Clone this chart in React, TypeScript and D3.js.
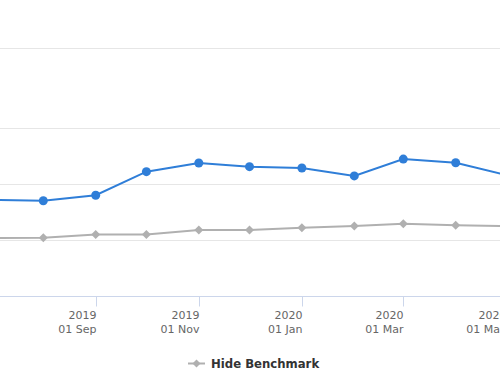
import React from "react";
import * as d3 from "d3";

const months: string[] = [
  "2019-07-01", "2019-08-01", "2019-09-01", "2019-10-01", "2019-11-01", "2019-12-01",
  "2020-01-01", "2020-02-01", "2020-03-01", "2020-04-01", "2020-05-01",
];
const portfolio: number[] = [34.3, 34.0, 36.0, 44.4, 47.5, 46.2, 45.7, 42.9, 48.9, 47.6, 43.2];
const benchmark: number[] = [20.7, 20.8, 22.0, 22.0, 23.6, 23.6, 24.4, 25.0, 25.8, 25.3, 25.0];
const yTicks: number[] = [0, 20, 40, 60, 88.6];
const xTicks: string[] = ["2019-09-01", "2019-11-01", "2020-01-01", "2020-03-01", "2020-05-01"];
const legendLabel = "Hide Benchmark";

const W = 500;
const H = 380;
const parse = d3.timeParse("%Y-%m-%d");
const fmtYear = d3.timeFormat("%Y");
const fmtDay = d3.timeFormat("%d %b");

export default function App() {
  const x = d3
    .scaleTime()
    .domain([parse("2019-08-01")!, parse("2020-04-01")!])
    .range([43.3, 455.7]);
  const y = d3.scaleLinear().domain([0, 60]).range([296, 128]);

  const dates = months.map((m) => parse(m)!);
  const line = d3
    .line<number>()
    .x((_, i) => x(dates[i]))
    .y((v) => y(v));

  const blue = "#2f7ed8";
  const gray = "#b0b0b0";
  const font = "'DejaVu Sans', 'Lucida Grande', Arial, sans-serif";

  const diamond = (cx: number, cy: number, r: number) =>
    `M${cx},${cy - r}L${cx + r},${cy}L${cx},${cy + r}L${cx - r},${cy}Z`;

  return (
    <svg
      width={W}
      height={H}
      style={{ position: "absolute", left: 0, top: 0, background: "#fff" }}
      fontFamily={font}
    >
      <defs>
        <clipPath id="plot">
          <rect x={0} y={0} width={W} height={300} />
        </clipPath>
      </defs>
      {yTicks.map((t) => (
        <line
          key={t}
          x1={0}
          x2={W}
          y1={Math.round(y(t)) + 0.5}
          y2={Math.round(y(t)) + 0.5}
          stroke="#e6e6e6"
          strokeWidth={1}
        />
      ))}
      <line x1={0} x2={W} y1={296.5} y2={296.5} stroke="#ccd6eb" strokeWidth={1} />
      {xTicks.map((t) => {
        const d = parse(t)!;
        const px = Math.round(x(d)) + 0.5;
        return (
          <g key={t}>
            <line x1={px} x2={px} y1={296} y2={306.5} stroke="#ccd6eb" strokeWidth={1} />
            <text x={px} y={318.5} textAnchor="end" fontSize={11} fill="#666">
              {fmtYear(d)}
            </text>
            <text x={px} y={333} textAnchor="end" fontSize={11} fill="#666">
              {fmtDay(d)}
            </text>
          </g>
        );
      })}
      <g clipPath="url(#plot)">
        <path d={line(benchmark) || ""} fill="none" stroke={gray} strokeWidth={2} />
        {benchmark.map((v, i) => (
          <path key={i} d={diamond(x(dates[i]), y(v), 4.5)} fill={gray} />
        ))}
        <path d={line(portfolio) || ""} fill="none" stroke={blue} strokeWidth={2} />
        {portfolio.map((v, i) => (
          <circle key={i} cx={x(dates[i])} cy={y(v)} r={4.5} fill={blue} />
        ))}
      </g>
      <g>
        <line x1={188} x2={205} y1={363.5} y2={363.5} stroke={gray} strokeWidth={2} />
        <path d={diamond(196.5, 363.5, 4)} fill={gray} />
        <text x={211} y={368} fontSize={11.7} fontWeight="bold" fill="#333">
          {legendLabel}
        </text>
      </g>
    </svg>
  );
}
